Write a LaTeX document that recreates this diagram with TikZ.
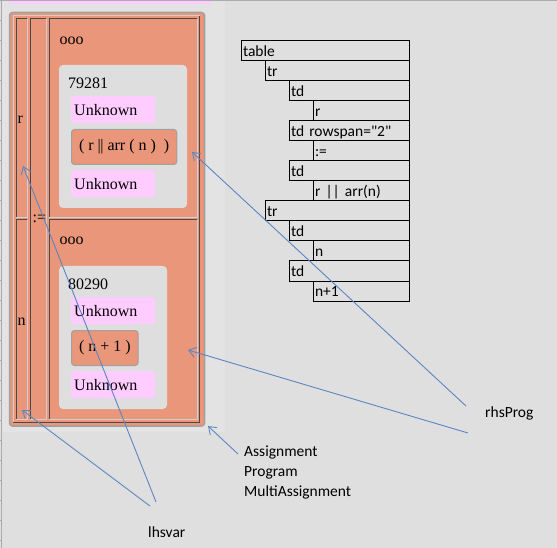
\documentclass[tikz,border=0pt]{standalone}
\usepackage{fontspec}
\setmainfont{Carlito}[Ligatures=TeXOff]
\newfontfamily\panelserif{Liberation Serif}
\usetikzlibrary{arrows.meta,positioning}
\definecolor{salmonfill}{HTML}{E9967A}
\definecolor{pinkfill}{HTML}{FFCCFF}
\definecolor{bggray}{HTML}{DFDFDF}
\definecolor{areagray}{HTML}{E3E3E3}
\definecolor{innergray}{HTML}{DEDEDE}
\definecolor{rimgray}{HTML}{A0A0A0}
\definecolor{litline}{HTML}{D0D0D0}
\definecolor{darkline}{HTML}{4A4A4A}
\definecolor{gridgray}{HTML}{A9ABB0}
\definecolor{arrowblue}{HTML}{5A86C2}
\tikzset{
  pointer/.style = {draw=arrowblue, line width=0.9pt, -{Straight Barb[length=7pt,width=10pt]}},
  tagbox/.style = {draw=black, line width=1pt, anchor=north west, inner xsep=1.5pt, inner ysep=0pt,
    minimum height=20pt, text height=11.5pt, text depth=0.5pt, align=left,
    font=\fontsize{15.5}{18}\selectfont},
  paneltext/.style = {anchor=base west, inner sep=0pt, font=\panelserif\fontsize{16}{18}\selectfont},
  unknownbox/.style = {fill=pinkfill, rounded corners=3pt, anchor=north west, minimum height=27pt,
    text width=78pt, inner xsep=3pt, inner ysep=0pt, align=left, font=\panelserif\fontsize{16}{18}\selectfont},
  exprbox/.style = {fill=salmonfill, draw=rimgray, line width=1pt, rounded corners=3pt, anchor=north west,
    minimum height=35pt, inner xsep=7.5pt, inner ysep=0pt, font=\panelserif\fontsize{16}{18}\selectfont},
  labeltext/.style = {anchor=base west, inner sep=0pt, font=\fontsize{15.5}{20}\selectfont}
}
\begin{document}
\begin{tikzpicture}[x=1pt, y=-1pt]
  \useasboundingbox (0,0) rectangle (557,548);
  \fill[bggray] (0,0) rectangle (557,548);
  \fill[areagray] (2,0) rectangle (225,432);
  \draw[gridgray, line width=1pt] (0,0.5) -- (557,0.5);
  \draw[gridgray, line width=1pt] (1.5,0) -- (1.5,548);
  \foreach \y in {20.7,40.7,...,540.7}
    \draw[gridgray, line width=1pt] (0,\y) -- (1.5,\y);
  \fill[pinkfill] (9,1) rectangle (211,4.5);

  \filldraw[fill=salmonfill, draw=rimgray, line width=1.5pt, rounded corners=3pt] (9.5,12.5) rectangle (204.5,426);
  \draw[litline, line width=1pt] (13,422) -- (13,16) -- (199.5,16);
  \draw[darkline, line width=1pt] (199.5,16) -- (199.5,422) -- (13,422);
  \foreach \xa/\ya/\xb/\yb in {16/19/27/218, 16/220/27/419, 30/19/46/419, 49/19/197/218, 49/220/197/419} {
    \draw[darkline, line width=1pt] (\xa,\yb) -- (\xa,\ya) -- (\xb,\ya);
    \draw[litline, line width=1pt] (\xb,\ya) -- (\xb,\yb) -- (\xa,\yb);
  }

  \node[paneltext] (lhsr) at (17.5,124) {r};
  \node[paneltext] (lhsn) at (17.5,325) {n};
  \node[paneltext] (assignop) at (32.5,223) {:=};

  \node[paneltext] (oooA) at (59.5,45) {ooo};
  \fill[innergray, rounded corners=4pt] (59,65) rectangle (187,208);
  \node[paneltext] (idA) at (68,89) {79281};
  \node[unknownbox] (unkAa) at (71,96) {Unknown};
  \node[exprbox] (exprA) at (71,129) {( r |\kern-0.5pt| arr ( n )~~)};
  \node[unknownbox] (unkAb) at (71,170) {Unknown};

  \node[paneltext] (oooB) at (59.5,244) {ooo};
  \fill[innergray, rounded corners=4pt] (59,266) rectangle (167,409);
  \node[paneltext] (idB) at (68,289) {80290};
  \node[unknownbox] (unkBa) at (71,297) {Unknown};
  \node[exprbox] (exprB) at (71,330) {( n + 1 )};
  \node[unknownbox] (unkBb) at (71,371) {Unknown};

  \foreach \lvl/\txt [count=\i from 0] in {0/table, 1/tr, 2/td, 3/r, 2/{td rowspan="2"}, 3/{:=}, 2/td,
      3/{r || arr(n)}, 1/tr, 2/td, 3/n, 2/td, 3/{n+1}} {
    \pgfmathsetmacro\boxw{168-24*\lvl}
    \node[tagbox, minimum width=\boxw pt, text width=\boxw pt-3pt] (t\i) at (241+24*\lvl, 40.5+20*\i) {\txt};
  }

  \node[labeltext] (rhsprog) at (485,417) {rhsProg};
  \node[labeltext] (kindA) at (244,456) {Assignment};
  \node[labeltext] (kindB) at (244,476) {Program};
  \node[labeltext] (kindC) at (244,496) {MultiAssignment};
  \node[labeltext] (lhsvar) at (148,537) {lhsvar};

  \coordinate (rhsFromA) at (466,406);
  \coordinate (rhsFromB) at (468,433);
  \coordinate (rhsTipA) at (192,152);
  \coordinate (rhsTipB) at (188,350);
  \coordinate (kindFrom) at (238,454);
  \coordinate (kindTip) at (208,426);
  \coordinate (lhsFromA) at (156,502);
  \coordinate (lhsFromB) at (150,506);
  \coordinate (lhsTipA) at (23,166);
  \coordinate (lhsTipB) at (22,410);
  \draw[pointer] (rhsFromA) -- (rhsTipA);
  \draw[pointer] (rhsFromB) -- (rhsTipB);
  \draw[pointer] (kindFrom) -- (kindTip);
  \draw[pointer] (lhsFromA) -- (lhsTipA);
  \draw[pointer] (lhsFromB) -- (lhsTipB);
\end{tikzpicture}
\end{document}
